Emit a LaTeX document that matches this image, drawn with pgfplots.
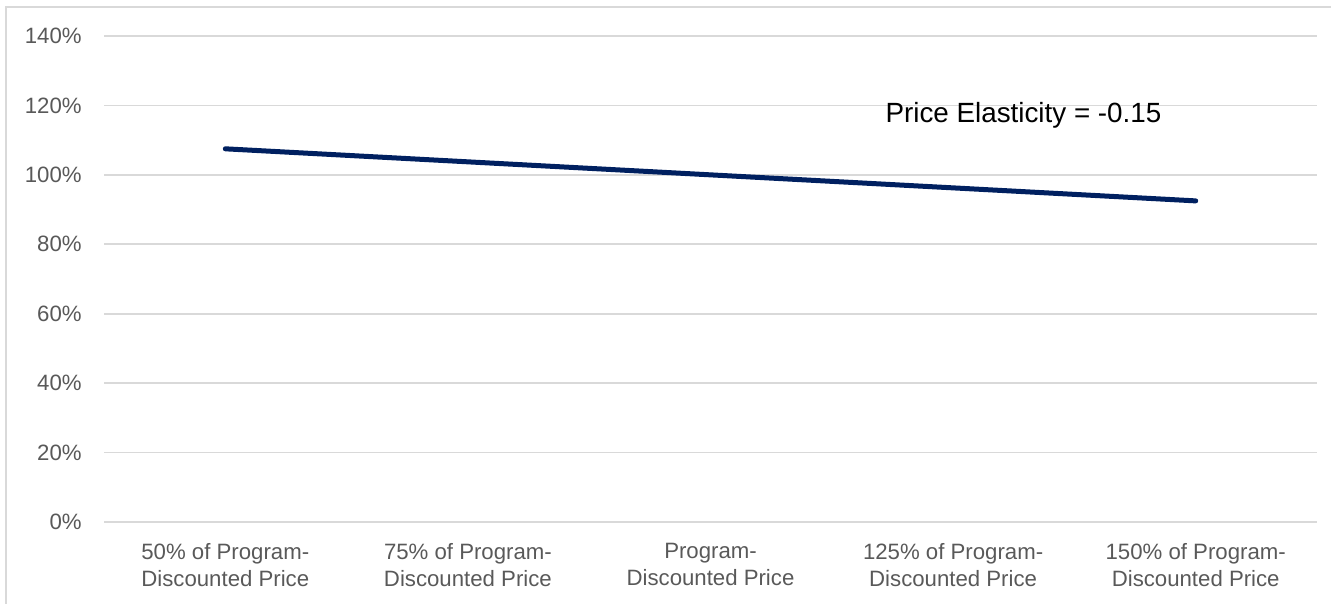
\documentclass[border=0pt]{standalone}
\usepackage{fontspec}
\setmainfont{Liberation Sans}
\usepackage{pgfplots}
\pgfplotsset{compat=1.18}
\definecolor{gridgray}{HTML}{D9D9D9}
\definecolor{ticktext}{HTML}{595959}
\definecolor{navy}{HTML}{002060}

\begin{document}
\begin{tikzpicture}
\useasboundingbox (0,0) rectangle (665.5pt,302pt);
% chart area frame
\draw[gridgray, line width=1pt] (3pt,-5pt) -- (3pt,298.5pt) -- (670pt,298.5pt);
\begin{axis}[
  at={(52pt,41pt)}, anchor=south west,
  scale only axis, width=606.5pt, height=243pt,
  xmin=-0.5, xmax=4.5, ymin=0, ymax=140,
  axis line style={draw=none},
  major tick length=0pt,
  ytick={0,20,40,60,80,100,120,140},
  yticklabels={0\%,20\%,40\%,60\%,80\%,100\%,120\%,140\%},
  xtick={0,1,2,3,4},
  xticklabels={50\% of Program-\\Discounted Price,
               75\% of Program-\\Discounted Price,
               Program-\\Discounted Price,
               125\% of Program-\\Discounted Price,
               150\% of Program-\\Discounted Price},
  ymajorgrids,
  grid style={gridgray, line width=0.9pt},
  yticklabel style={anchor=east, inner sep=0pt, xshift=-11pt,
    font=\fontsize{11.1}{13.5}\selectfont, text=ticktext},
  xticklabel style={anchor=north, align=center, inner sep=0pt, yshift=-10.5pt,
    font=\fontsize{11.1}{13.5}\selectfont, text=ticktext},
  clip=false,
]
\addplot[navy, line width=2.5pt, line cap=round] coordinates {
  (0,107.5) (1,103.75) (2,100) (3,96.25) (4,92.5)
};
\node[anchor=base, inner sep=0pt, font=\fontsize{13.9}{16}\selectfont]
  at (axis cs:3.29,115.2) {Price Elasticity = -0.15};
\end{axis}
\end{tikzpicture}
\end{document}
